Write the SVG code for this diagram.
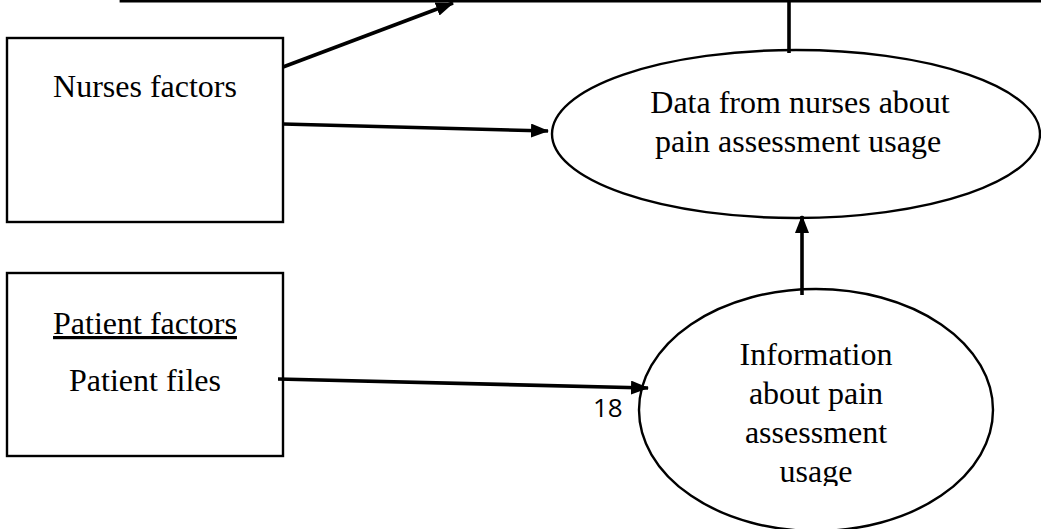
<svg xmlns="http://www.w3.org/2000/svg" width="1041" height="529" viewBox="0 0 1041 529">
<style>
.box{fill:#fff;stroke:#000;stroke-width:2.4}
.ell{fill:#fff;stroke:#000;stroke-width:2.4}
.t{font-family:"Liberation Serif","Times New Roman",serif;font-size:32px;fill:#000;text-anchor:middle}
.n{font-family:"Open Sans","Liberation Sans",sans-serif;font-size:26px;fill:#000}
.c{fill:none;stroke:#000;stroke-width:3.6}
</style>
<defs>
<marker id="ah" viewBox="0 0 18 14" refX="17" refY="7" markerWidth="18" markerHeight="14" markerUnits="userSpaceOnUse" orient="auto">
<path d="M0,0 L18,7 L0,14 Z" fill="#000"/>
</marker>
<clipPath id="clip2"><rect x="0" y="0" width="1041" height="486"/></clipPath>
</defs>
<rect width="1041" height="529" fill="#fff"/>
<g id="top-box">
<path d="M121,-10 V1 H1045" fill="none" stroke="#000" stroke-width="2.8"/>
</g>
<g id="nurses">
<rect class="box" x="7" y="38" width="276" height="184"/>
<text class="t" x="145" y="97">Nurses factors</text>
</g>
<g id="patient">
<rect class="box" x="7" y="273" width="276" height="183"/>
<text class="t" x="145" y="334" text-decoration="underline">Patient factors</text>
<text class="t" x="145" y="391">Patient files</text>
</g>
<g id="data-nurses">
<ellipse class="ell" cx="796" cy="134" rx="244" ry="84"/>
<text class="t" x="800" y="113">Data from nurses about</text>
<text class="t" x="798" y="152">pain assessment usage</text>
</g>
<g id="info">
<ellipse class="ell" cx="816" cy="410" rx="177" ry="121"/>
<g clip-path="url(#clip2)">
<text class="t" x="816" y="365">Information</text>
<text class="t" x="816" y="404">about pain</text>
<text class="t" x="816" y="443">assessment</text>
<text class="t" x="816" y="482">usage</text>
</g>
</g>
<g id="connectors">
<line class="c" x1="283" y1="67" x2="453" y2="3" marker-end="url(#ah)"/>
<line class="c" x1="283" y1="124" x2="548" y2="131" marker-end="url(#ah)"/>
<line class="c" x1="278" y1="379" x2="648" y2="388" marker-end="url(#ah)"/>
<line class="c" x1="802" y1="295" x2="802" y2="216" marker-end="url(#ah)"/>
<line x1="789" y1="0" x2="789" y2="53" stroke="#000" stroke-width="3.6"/>
</g>
<text class="n" x="593" y="417">18</text>
</svg>
